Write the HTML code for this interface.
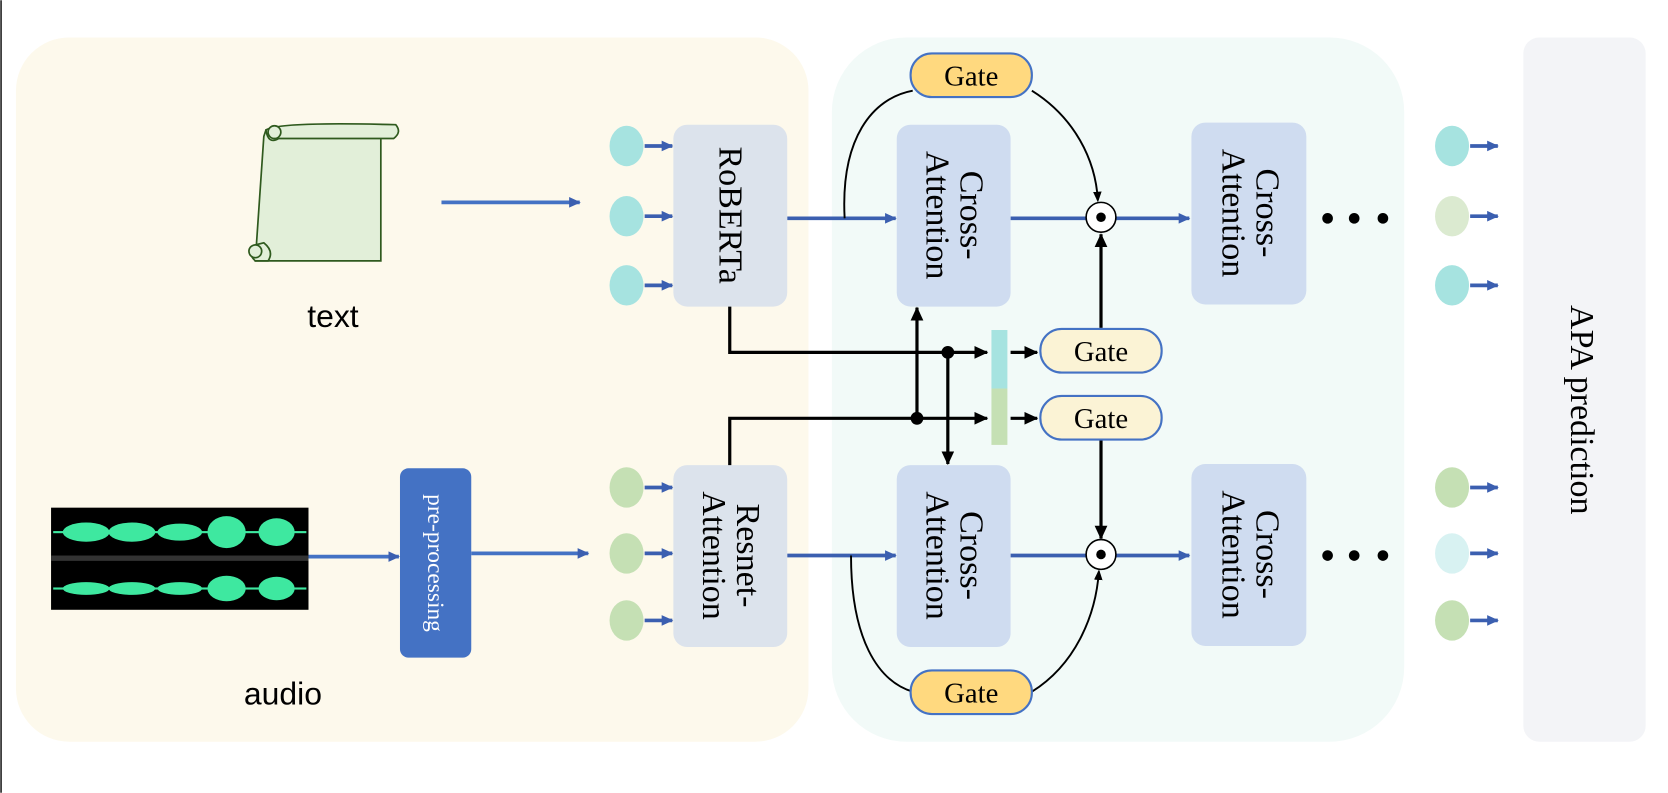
<!DOCTYPE html>
<html><head><meta charset="utf-8"><style>html,body{margin:0;padding:0;background:#fff}svg{display:block}</style></head><body>
<svg width="1668" height="793" viewBox="0 0 1568 745" xmlns="http://www.w3.org/2000/svg">
<defs>
<marker id="ab" markerWidth="12" markerHeight="12" refX="10" refY="6" orient="auto" markerUnits="userSpaceOnUse"><path d="M0,1 L11,6 L0,11 Z" fill="#3b5fb0"/></marker>
<marker id="ak" markerWidth="14" markerHeight="14" refX="12" refY="6" orient="auto" markerUnits="userSpaceOnUse"><path d="M0,0 L13,6 L0,12 Z" fill="#000"/></marker>
<marker id="ak2" markerWidth="10" markerHeight="12" refX="8" refY="5" orient="auto" markerUnits="userSpaceOnUse"><path d="M0,1 L10,5 L0,9 Z" fill="#000"/></marker>
</defs>
<rect width="1568" height="745" fill="#fff"/>
<line x1="1" y1="0" x2="1" y2="745" stroke="#222" stroke-width="1.5"/>
<rect x="15" y="35" width="745" height="662" rx="50" fill="#fdf9ec"/>
<rect x="782" y="35" width="538" height="662" rx="70" fill="#f2faf8"/>
<rect x="1432" y="35" width="115" height="662" rx="15" fill="#f3f4f7"/>
<text transform="translate(1477,385) rotate(90)" text-anchor="middle" font-family="Liberation Serif,serif" font-size="32" fill="#000">APA prediction</text>

<!-- scroll -->
<g stroke="#2f5a1e" stroke-width="1.6" fill="#e2efd9">
<path d="M250,122 L358,122 L358,245 L240,245 L248,128 Z"/>
<path d="M250,122 Q262,114 372,117 Q378,124 370,130 L262,130 Q252,136 250,122 Z"/>
<path d="M240,230 Q232,238 240,245 L252,245 Q258,236 248,228 Z"/>
<circle cx="258" cy="124" r="6"/><circle cx="240" cy="236" r="6"/>
</g>
<text x="313" y="307" text-anchor="middle" font-family="Liberation Sans,sans-serif" font-size="30">text</text>
<text x="266" y="662" text-anchor="middle" font-family="Liberation Sans,sans-serif" font-size="30">audio</text>
<line x1="415" y1="190" x2="545" y2="190" stroke="#4472c4" stroke-width="3.5" marker-end="url(#ab)"/>

<!-- waveform -->
<rect x="48" y="477" width="242" height="96" fill="#000"/>
<rect x="48" y="522" width="242" height="5" fill="#333"/>
<g fill="#3ee8a0">
<ellipse cx="81" cy="500" rx="22" ry="9"/><ellipse cx="124" cy="500" rx="22" ry="9"/><ellipse cx="169" cy="500" rx="21" ry="8"/><ellipse cx="213" cy="500" rx="18" ry="15"/><ellipse cx="260" cy="500" rx="17" ry="13"/>
<ellipse cx="81" cy="553" rx="22" ry="6"/><ellipse cx="124" cy="553" rx="22" ry="6"/><ellipse cx="169" cy="553" rx="21" ry="6"/><ellipse cx="213" cy="553" rx="18" ry="12"/><ellipse cx="260" cy="553" rx="17" ry="11"/>
<rect x="50" y="499" width="238" height="2"/><rect x="50" y="552" width="238" height="2"/>
</g>
<line x1="290" y1="523" x2="375" y2="523" stroke="#4472c4" stroke-width="3.5" marker-end="url(#ab)"/>
<rect x="376" y="440" width="67" height="178" rx="8" fill="#4472c4"/>
<text transform="translate(409,529) rotate(90)" text-anchor="middle" dominant-baseline="central" font-family="Liberation Serif,serif" font-size="22" fill="#fff">pre-processing</text>
<line x1="443" y1="520" x2="553" y2="520" stroke="#4472c4" stroke-width="3.5" marker-end="url(#ab)"/>

<!-- circles -->
<g>
<ellipse cx="589" cy="137" rx="16" ry="19" fill="#a6e3e0"/><ellipse cx="589" cy="203" rx="16" ry="19" fill="#a6e3e0"/><ellipse cx="589" cy="268" rx="16" ry="19" fill="#a6e3e0"/>
<ellipse cx="589" cy="458" rx="16" ry="19" fill="#c5e0b4"/><ellipse cx="589" cy="520" rx="16" ry="19" fill="#c5e0b4"/><ellipse cx="589" cy="583" rx="16" ry="19" fill="#c5e0b4"/>
<ellipse cx="1365" cy="137" rx="16" ry="19" fill="#a6e3e0"/><ellipse cx="1365" cy="203" rx="16" ry="19" fill="#dbead0"/><ellipse cx="1365" cy="268" rx="16" ry="19" fill="#a6e3e0"/>
<ellipse cx="1365" cy="458" rx="16" ry="19" fill="#c5e0b4"/><ellipse cx="1365" cy="520" rx="16" ry="19" fill="#d8f2f2"/><ellipse cx="1365" cy="583" rx="16" ry="19" fill="#c5e0b4"/>
</g>
<g stroke="#3b5fb0" stroke-width="3.5">
<line x1="606" y1="137" x2="632" y2="137" marker-end="url(#ab)"/><line x1="606" y1="203" x2="632" y2="203" marker-end="url(#ab)"/><line x1="606" y1="268" x2="632" y2="268" marker-end="url(#ab)"/>
<line x1="606" y1="458" x2="632" y2="458" marker-end="url(#ab)"/><line x1="606" y1="520" x2="632" y2="520" marker-end="url(#ab)"/><line x1="606" y1="583" x2="632" y2="583" marker-end="url(#ab)"/>
<line x1="1382" y1="137" x2="1408" y2="137" marker-end="url(#ab)"/><line x1="1382" y1="203" x2="1408" y2="203" marker-end="url(#ab)"/><line x1="1382" y1="268" x2="1408" y2="268" marker-end="url(#ab)"/>
<line x1="1382" y1="458" x2="1408" y2="458" marker-end="url(#ab)"/><line x1="1382" y1="520" x2="1408" y2="520" marker-end="url(#ab)"/><line x1="1382" y1="583" x2="1408" y2="583" marker-end="url(#ab)"/>
<line x1="740" y1="205" x2="842" y2="205" marker-end="url(#ab)"/><line x1="740" y1="522" x2="842" y2="522" marker-end="url(#ab)"/>
<line x1="950" y1="205" x2="1021" y2="205"/><line x1="1049" y1="205" x2="1118" y2="205" marker-end="url(#ab)"/>
<line x1="950" y1="522" x2="1021" y2="522"/><line x1="1049" y1="522" x2="1118" y2="522" marker-end="url(#ab)"/>
</g>

<!-- boxes -->
<rect x="633" y="117" width="107" height="171" rx="13" fill="#dce3ec"/>
<rect x="633" y="437" width="107" height="171" rx="13" fill="#dce3ec"/>
<rect x="843" y="117" width="107" height="171" rx="13" fill="#cfdcf0"/>
<rect x="843" y="437" width="107" height="171" rx="13" fill="#cfdcf0"/>
<rect x="1120" y="115" width="108" height="171" rx="13" fill="#cfdcf0"/>
<rect x="1120" y="436" width="108" height="171" rx="13" fill="#cfdcf0"/>
<g font-family="Liberation Serif,serif" font-size="32" fill="#000" text-anchor="middle">
<text transform="translate(686,202) rotate(90)" dominant-baseline="central">RoBERTa</text>
<text transform="translate(686,522) rotate(90)"><tspan x="0" y="-7">Resnet-</tspan><tspan x="0" y="25">Attention</tspan></text>
<text transform="translate(896,202) rotate(90)"><tspan x="0" y="-7">Cross-</tspan><tspan x="0" y="25">Attention</tspan></text>
<text transform="translate(896,522) rotate(90)"><tspan x="0" y="-7">Cross-</tspan><tspan x="0" y="25">Attention</tspan></text>
<text transform="translate(1174,200) rotate(90)"><tspan x="0" y="-7">Cross-</tspan><tspan x="0" y="25">Attention</tspan></text>
<text transform="translate(1174,521) rotate(90)"><tspan x="0" y="-7">Cross-</tspan><tspan x="0" y="25">Attention</tspan></text>
</g>
<g fill="#000"><circle cx="1248" cy="205" r="5"/><circle cx="1273" cy="205" r="5"/><circle cx="1300" cy="205" r="5"/>
<circle cx="1248" cy="522" r="5"/><circle cx="1273" cy="522" r="5"/><circle cx="1300" cy="522" r="5"/></g>

<circle cx="1035" cy="204" r="14" fill="#fff" stroke="#000" stroke-width="1.5"/><circle cx="1035" cy="204" r="4.5"/>
<circle cx="1035" cy="521" r="14" fill="#fff" stroke="#000" stroke-width="1.5"/><circle cx="1035" cy="521" r="4.5"/>

<g fill="none" stroke="#000" stroke-width="1.8">
<path d="M794,205 C790,130 820,92 858,85"/>
<path d="M970,85 C1010,110 1030,150 1032,188" marker-end="url(#ak2)"/>
<path d="M800,522 C800,600 825,640 858,650"/>
<path d="M970,650 C1010,625 1030,580 1033,537" marker-end="url(#ak2)"/>
</g>

<g fill="none" stroke="#000" stroke-width="3">
<path d="M686,288 V331 H928" marker-end="url(#ak)"/>
<path d="M686,437 V393 H928" marker-end="url(#ak)"/>
<path d="M891,331 V436" marker-end="url(#ak)"/>
<path d="M862,393 V289" marker-end="url(#ak)"/>
<line x1="950" y1="331" x2="975" y2="331" marker-end="url(#ak)"/>
<line x1="950" y1="393" x2="975" y2="393" marker-end="url(#ak)"/>
<line x1="1035" y1="308" x2="1035" y2="220" marker-end="url(#ak)"/>
<line x1="1035" y1="412" x2="1035" y2="506" marker-end="url(#ak)"/>
</g>
<circle cx="891" cy="331" r="6"/><circle cx="862" cy="393" r="6"/>
<rect x="932" y="310" width="15" height="55" fill="#a6e3e0"/>
<rect x="932" y="365" width="15" height="53" fill="#c5e0b4"/>

<g stroke="#4472c4" stroke-width="2">
<rect x="856" y="50" width="114" height="41" rx="20" fill="#ffd97f"/>
<rect x="856" y="630" width="114" height="41" rx="20" fill="#ffd97f"/>
<rect x="978" y="309" width="114" height="41" rx="20" fill="#fbf3d5"/>
<rect x="978" y="372" width="114" height="41" rx="20" fill="#fbf3d5"/>
</g>
<g font-family="Liberation Serif,serif" font-size="27" text-anchor="middle" fill="#000">
<text x="913" y="80">Gate</text><text x="913" y="660">Gate</text>
<text x="1035" y="339">Gate</text><text x="1035" y="402">Gate</text>
</g>
</svg>
</body></html>
